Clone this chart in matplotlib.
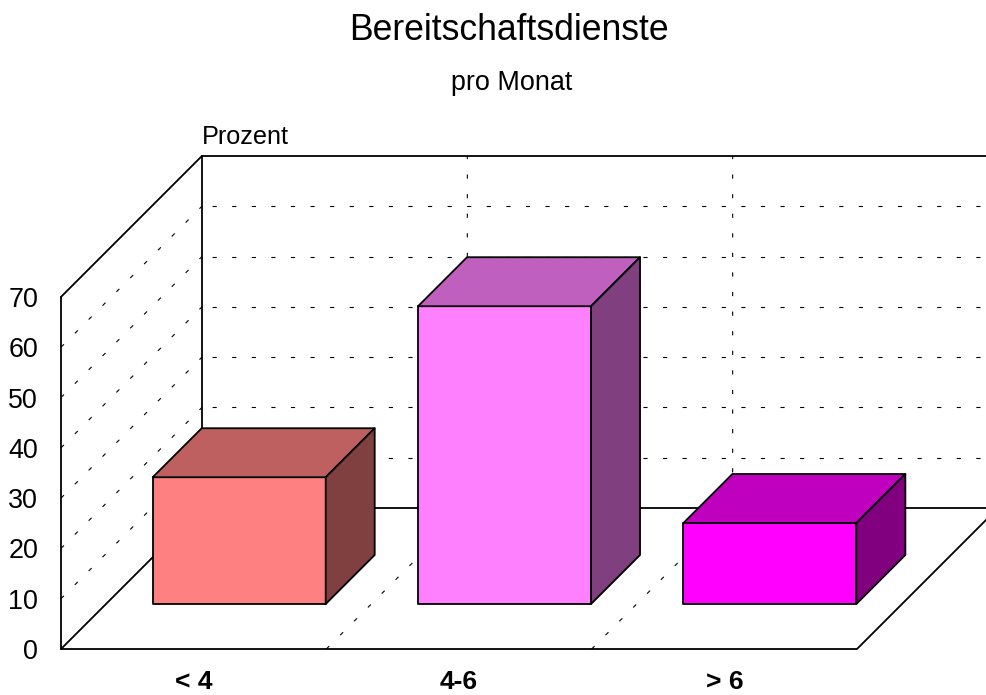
import matplotlib
matplotlib.use('Agg')
import matplotlib.pyplot as plt
from matplotlib.patches import Polygon

plt.rcParams['font.family'] = ['Liberation Sans', 'DejaVu Sans']
plt.rcParams['lines.scale_dashes'] = False

categories = ['< 4', '4-6', '> 6']
values = [25.2, 59.2, 16.1]
front_colors = ['#ff8080', '#ff80ff', '#ff00ff']
top_colors = ['#bf6060', '#bf60bf', '#bf00bf']
side_colors = ['#804040', '#804080', '#800080']
y_ticks = [0, 10, 20, 30, 40, 50, 60, 70]

W, H = 987, 695
PX_X = 265.33  # pixels per category
PX_Y = 5.03  # pixels per percent
DEPTH_X = 141 / PX_X
DEPTH_Y = 141 / PX_Y
BAR_W = 173 / PX_X
D_FRONT = 45 / 141
D_BACK = 94 / 141
DOTS = (0, (3.0, 11.1))


def pt(x, y, d=0.0):
    # project category / percent / depth onto the flat axes
    return (x + d * DEPTH_X, y + d * DEPTH_Y)


fig = plt.figure(figsize=(W / 100, H / 100), dpi=100)
ax = fig.add_axes([61 / W, (H - 649) / H, (W - 61) / W, 649 / H])
ax.set_xlim(0, (W - 61) / PX_X)
ax.set_ylim(0, 649 / PX_Y)
for s in ax.spines.values():
    s.set_visible(False)
ax.set_yticks(y_ticks)
ax.set_xticks([i + 0.5 for i in range(len(categories))])
ax.set_xticklabels(categories, fontweight='bold', fontsize=19)
ax.tick_params(axis='y', length=0, pad=16.5, labelsize=19.4)
ax.tick_params(axis='x', length=0, pad=15)

n = len(categories)
x_end = ax.get_xlim()[1] + 0.01
dot_kw = dict(color='black', lw=0.8, clip_on=False, zorder=1)

# dotted grid on side wall and back wall
for v in y_ticks[1:-1]:
    a, b = pt(0, v, 0), pt(0, v, 1)
    ax.plot([a[0], b[0]], [a[1], b[1]], linestyle=DOTS, **dot_kw)
    ax.plot([b[0], x_end], [b[1], b[1]], linestyle=(6.84, (3.0, 11.1)), **dot_kw)
for v in y_ticks[-1:]:
    b = pt(0, v, 1)
    ax.plot([b[0], x_end], [b[1], b[1]], color='black', lw=1.3, clip_on=False, zorder=1)

# dotted lines over the floor and up the back wall
for i in range(1, n):
    a, b, c = pt(i, 0, 0), pt(i, 0, 1), pt(i, 70, 1)
    ax.plot([a[0], b[0], c[0]], [a[1], b[1], c[1]], linestyle=DOTS, **dot_kw)

# frame
line_kw = dict(color='black', lw=1.3, clip_on=False, zorder=2, solid_capstyle='round')
outline = [pt(0, 70, 0), pt(0, 0, 0), pt(n, 0, 0), pt(n, 0, 1)]
ax.plot(*zip(*outline), **line_kw)
ax.plot(*zip(pt(0, 0, 0), pt(0, 0, 1), pt(0, 70, 1), pt(0, 70, 0)), **line_kw)
ax.plot(*zip(pt(0, 0, 1), pt(x_end, 0, 1)), **line_kw)

# bars
for i, v in enumerate(values):
    x0 = i + 0.5 - BAR_W / 2 + 0.002
    x1 = x0 + BAR_W
    faces = [
        ([pt(x0, 0, D_FRONT), pt(x1, 0, D_FRONT), pt(x1, v, D_FRONT), pt(x0, v, D_FRONT)], front_colors[i]),
        ([pt(x0, v, D_FRONT), pt(x1, v, D_FRONT), pt(x1, v, D_BACK), pt(x0, v, D_BACK)], top_colors[i]),
        ([pt(x1, 0, D_FRONT), pt(x1, 0, D_BACK), pt(x1, v, D_BACK), pt(x1, v, D_FRONT)], side_colors[i]),
    ]
    for verts, col in faces:
        ax.add_patch(Polygon(verts, closed=True, facecolor=col, edgecolor='black',
                             lw=1.3, joinstyle='round', clip_on=False, zorder=3))

fig.text(509 / W, 1 - 31 / H, 'Bereitschaftsdienste', fontsize=25.6, ha='center', va='center')
fig.text(512 / W, 1 - 83 / H, 'pro Monat', fontsize=19.4, ha='center', va='center')
fig.text(202 / W, 1 - 137 / H, 'Prozent', fontsize=18.2, ha='left', va='center')

fig.savefig('out.png', dpi=100)
plt.close()
